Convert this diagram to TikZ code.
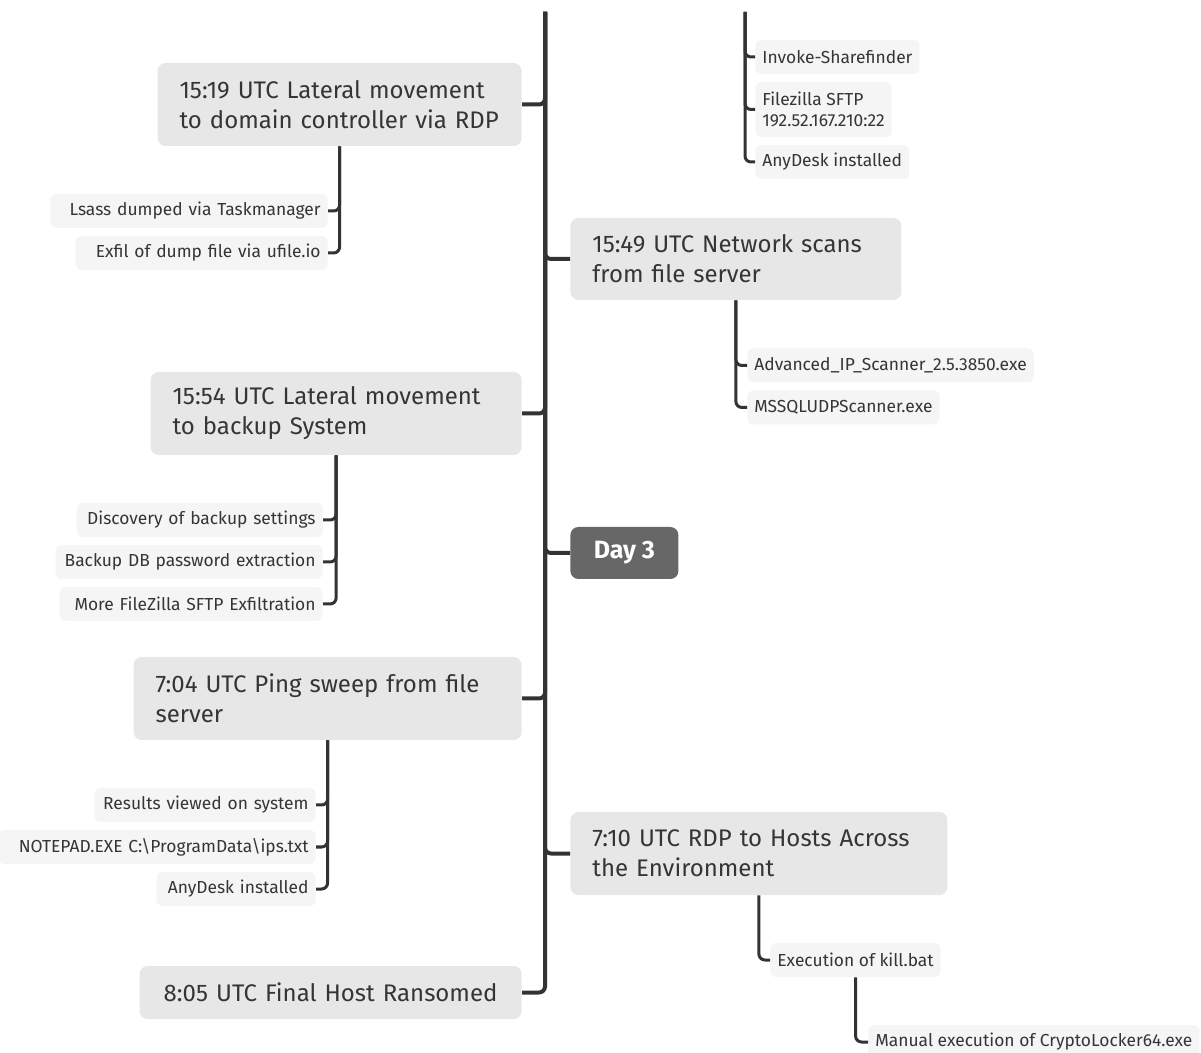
\documentclass[tikz,border=0pt]{standalone}
\usepackage{fontspec}
\setmainfont{Fira Sans}
\usetikzlibrary{positioning}

\definecolor{linedark}{HTML}{333333}
\definecolor{mainfill}{HTML}{E7E7E7}
\definecolor{subfill}{HTML}{F5F5F5}
\definecolor{dayfill}{HTML}{676767}
\definecolor{textdark}{HTML}{353535}

\tikzset{
  topic/.style={fill=mainfill, text=textdark, rounded corners=4pt,
    inner xsep=11pt, inner ysep=0pt, align=left,
    font=\fontsize{12}{15}\selectfont},
  subtopic/.style={fill=subfill, text=textdark, rounded corners=3pt,
    inner xsep=3.5pt, inner ysep=0pt, minimum height=17pt,
    font=\fontsize{8.7}{10.5}\selectfont},
  daybox/.style={fill=dayfill, text=white, rounded corners=4pt,
    minimum width=54pt, minimum height=26pt, inner sep=0pt,
    font=\fontsize{12.5}{14}\selectfont\bfseries},
  branch/.style={draw=linedark, line width=2pt, rounded corners=3pt},
  twig/.style={draw=linedark, line width=1.5pt, rounded corners=3pt},
}

\begin{document}
\begin{tikzpicture}[x=0.5pt, y=-0.5pt]
\useasboundingbox (0,0) rectangle (1201,1053);
% Timeline spine and the hidden topic above the picture
\coordinate (spinetop) at (545,12);
\coordinate (hiddentop) at (745,12);

% Topics left of the spine
\node[topic, anchor=east, text width=160pt, minimum height=41.5pt] (dcmove) at (522,104.5)
  {15:19 UTC Lateral movement\\to domain controller via RDP};
\node[topic, anchor=east, text width=163.5pt, minimum height=41.5pt] (bkmove) at (522,413.5)
  {15:54 UTC Lateral movement\\to backup System};
\node[topic, anchor=east, text width=172pt, minimum height=41.5pt] (pingsweep) at (522,698.5)
  {7:04 UTC Ping sweep from file\\server};
\node[topic, anchor=east, text width=169pt, minimum height=26.5pt, align=center] (ransomed) at (522,992.5)
  {8:05 UTC Final Host Ransomed};

% Topics right of the spine
\node[topic, anchor=west, text width=143.5pt, minimum height=41pt] (netscan) at (570,259)
  {15:49 UTC Network scans\\from file server};
\node[daybox, anchor=west] (day) at (570,553) {Day 3};
\node[topic, anchor=west, text width=166.5pt, minimum height=41.5pt] (rdphosts) at (570,853.5)
  {7:10 UTC RDP to Hosts Across\\the Environment};

% Subtopics of the hidden topic
\node[subtopic, anchor=west, align=left] (sharefind) at (755,57) {Invoke-Sharefinder};
\node[subtopic, anchor=west, align=left, minimum height=27.5pt] (fzsftp) at (755,109.5)
  {Filezilla SFTP\\192.52.167.210:22};
\node[subtopic, anchor=west, align=left] (anydeskA) at (755,162) {AnyDesk installed};

% Subtopics of 15:19
\node[subtopic, anchor=east, text width=131.5pt, align=right] (lsass) at (328,211) {Lsass dumped via Taskmanager};
\node[subtopic, anchor=east, text width=119pt, align=right] (exfil) at (328,253) {Exfil of dump file via ufile.io};

% Subtopics of 15:49
\node[subtopic, anchor=west, align=left] (ipscan) at (747,365.5) {Advanced\_IP\_Scanner\_2.5.3850.exe};
\node[subtopic, anchor=west, align=left] (mssql) at (747,407.5) {MSSQLUDPScanner.exe};

% Subtopics of 15:54
\node[subtopic, anchor=east, text width=116pt, align=right] (bksettings) at (323,520) {Discovery of backup settings};
\node[subtopic, anchor=east, text width=126.5pt, align=right] (bkpass) at (323,562) {Backup DB password extraction};
\node[subtopic, anchor=east, text width=124.5pt, align=right] (morefz) at (323,604) {More FileZilla SFTP Exfiltration};

% Subtopics of 7:04
\node[subtopic, anchor=east, text width=103.5pt, align=right] (results) at (316,805) {Results viewed on system};
\node[subtopic, anchor=east, text width=151.5pt, align=right] (notepad) at (316,847) {NOTEPAD.EXE C:\textbackslash ProgramData\textbackslash ips.txt};
\node[subtopic, anchor=east, text width=72.5pt, align=right] (anydeskB) at (316,889) {AnyDesk installed};

% Subtopics of 7:10
\node[subtopic, anchor=west, align=left] (killbat) at (770,960) {Execution of kill.bat};
\node[subtopic, anchor=west, align=left] (cryptolock) at (868,1042) {Manual execution of CryptoLocker64.exe};

% Branches off the spine
\foreach \topicname in {dcmove, bkmove, pingsweep, ransomed}
  \draw[branch] (spinetop) |- (\topicname.east);
\foreach \topicname in {netscan, day, rdphosts}
  \draw[branch] (spinetop) |- (\topicname.west);

% Twigs to the subtopics
\foreach \subname in {sharefind, fzsftp, anydeskA}
  \draw[twig] (hiddentop) |- (\subname.west);
\foreach \subname in {lsass, exfil}
  \draw[twig] (dcmove.south) |- (\subname.east);
\foreach \subname in {ipscan, mssql}
  \draw[twig] (netscan.south) |- (\subname.west);
\foreach \subname in {bksettings, bkpass, morefz}
  \draw[twig] (bkmove.south) |- (\subname.east);
\foreach \subname in {results, notepad, anydeskB}
  \draw[twig] (pingsweep.south) |- (\subname.east);
\draw[twig] (rdphosts.south) |- (killbat.west);
\draw[twig] (killbat.south) |- (cryptolock.west);
\end{tikzpicture}
\end{document}
